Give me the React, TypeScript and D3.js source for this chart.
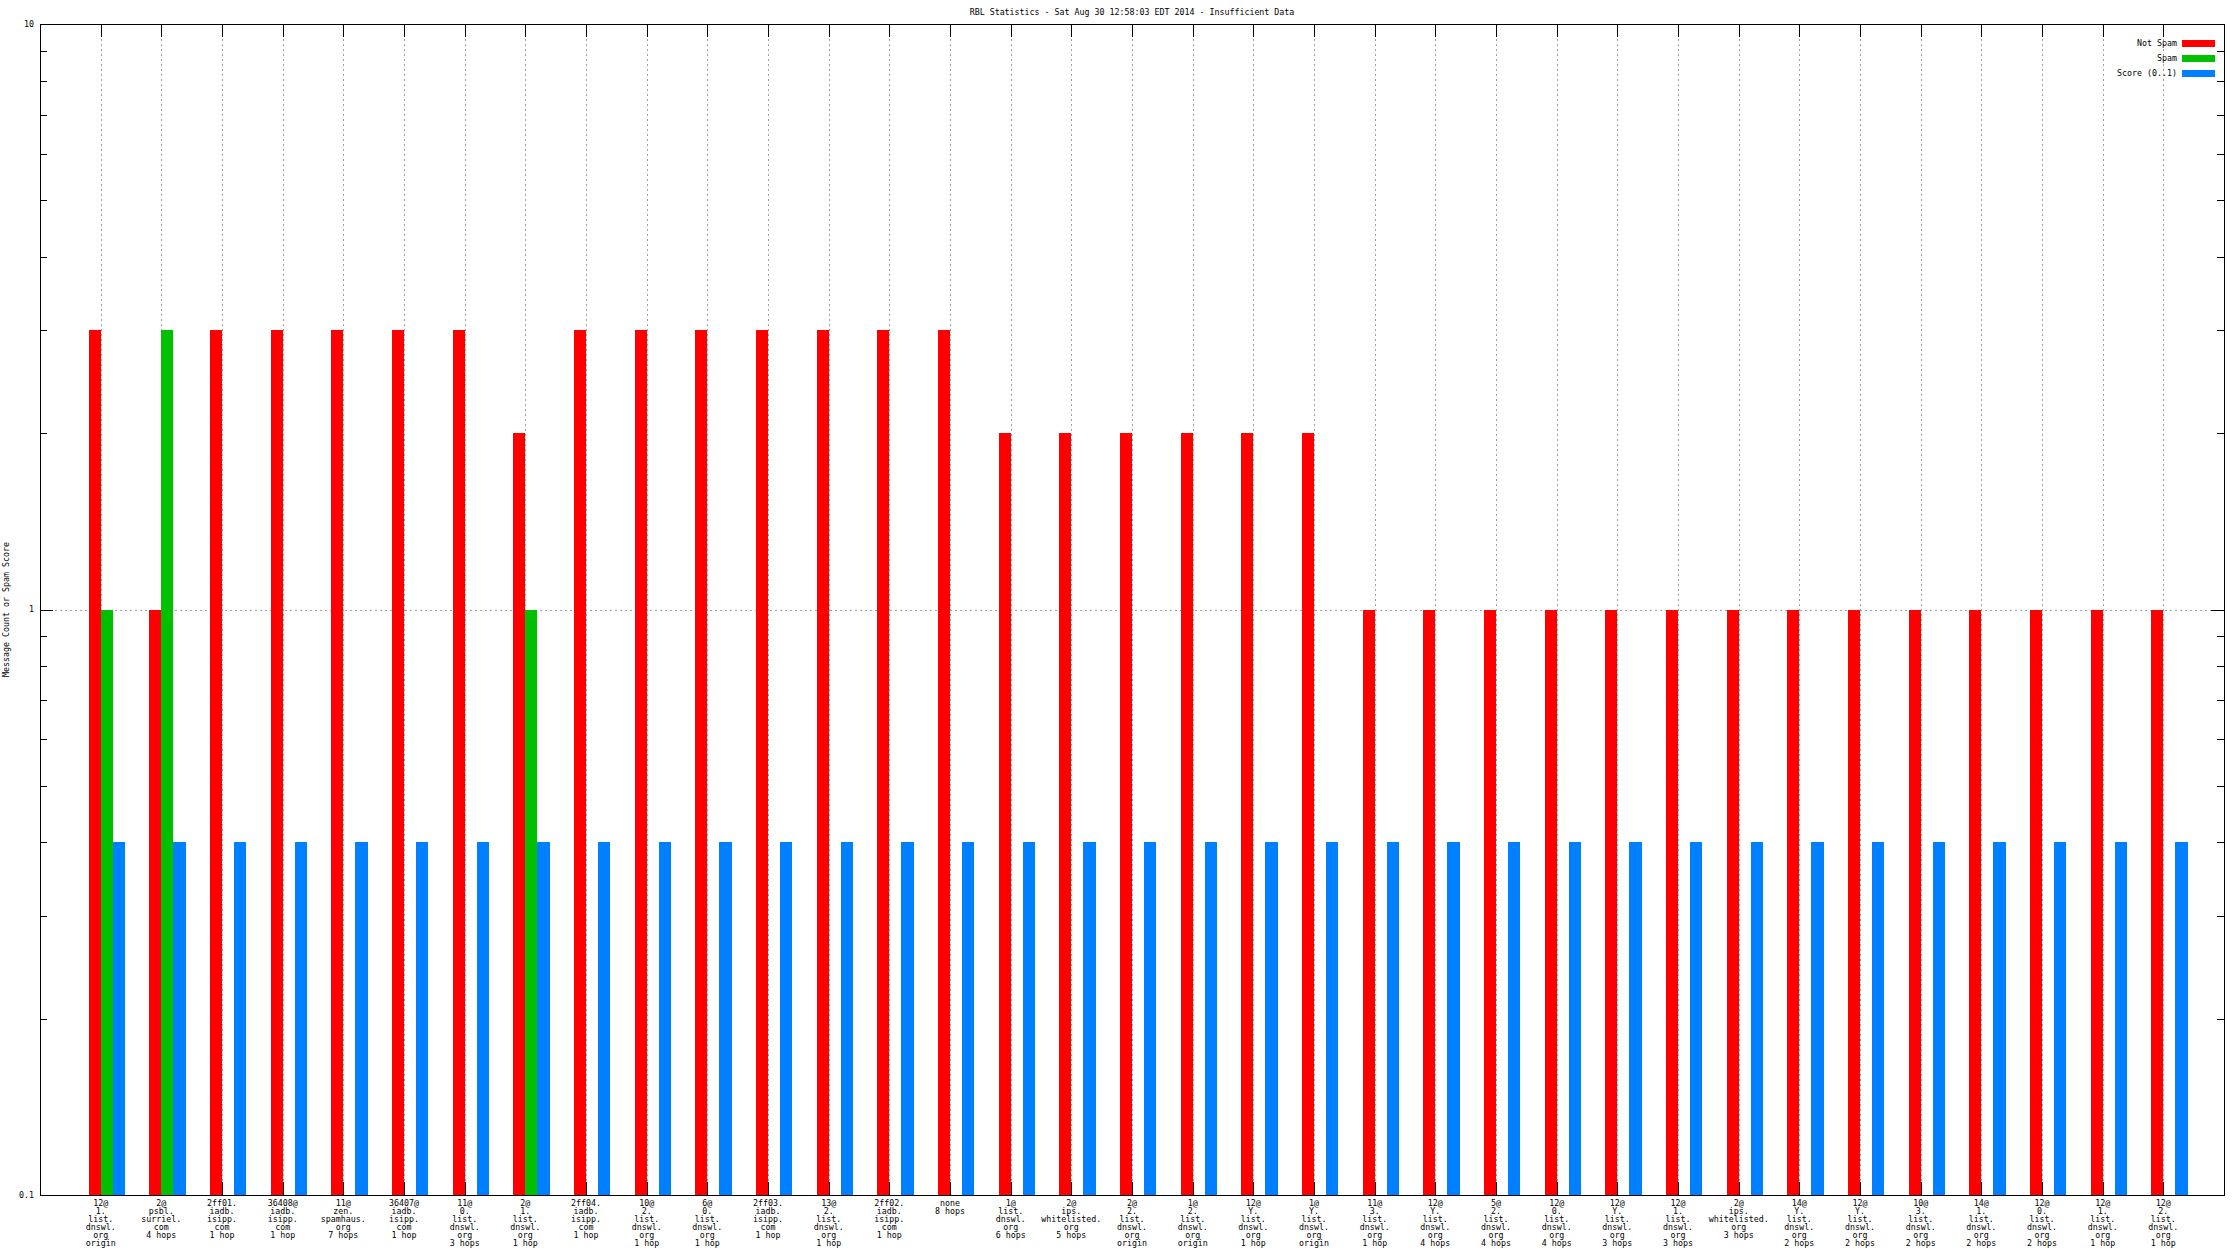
import React from "react";
import * as d3 from "d3";

const title = "RBL Statistics - Sat Aug 30 12:58:03 EDT 2014 - Insufficient Data";
const yLabel = "Message Count or Spam Score";

const categories: string[] = [
  "12@\n1.\nlist.\ndnswl.\norg\norigin",
  "2@\npsbl.\nsurriel.\ncom\n4 hops",
  "2ff01.\niadb.\nisipp.\ncom\n1 hop",
  "36408@\niadb.\nisipp.\ncom\n1 hop",
  "11@\nzen.\nspamhaus.\norg\n7 hops",
  "36407@\niadb.\nisipp.\ncom\n1 hop",
  "11@\n0.\nlist.\ndnswl.\norg\n3 hops",
  "2@\n1.\nlist.\ndnswl.\norg\n1 hop",
  "2ff04.\niadb.\nisipp.\ncom\n1 hop",
  "10@\n2.\nlist.\ndnswl.\norg\n1 hop",
  "6@\n0.\nlist.\ndnswl.\norg\n1 hop",
  "2ff03.\niadb.\nisipp.\ncom\n1 hop",
  "13@\n2.\nlist.\ndnswl.\norg\n1 hop",
  "2ff02.\niadb.\nisipp.\ncom\n1 hop",
  "none\n8 hops",
  "1@\nlist.\ndnswl.\norg\n6 hops",
  "2@\nips.\nwhitelisted.\norg\n5 hops",
  "2@\n2.\nlist.\ndnswl.\norg\norigin",
  "1@\n2.\nlist.\ndnswl.\norg\norigin",
  "12@\nY.\nlist.\ndnswl.\norg\n1 hop",
  "1@\nY.\nlist.\ndnswl.\norg\norigin",
  "11@\n3.\nlist.\ndnswl.\norg\n1 hop",
  "12@\nY.\nlist.\ndnswl.\norg\n4 hops",
  "5@\n2.\nlist.\ndnswl.\norg\n4 hops",
  "12@\n0.\nlist.\ndnswl.\norg\n4 hops",
  "12@\nY.\nlist.\ndnswl.\norg\n3 hops",
  "12@\n1.\nlist.\ndnswl.\norg\n3 hops",
  "2@\nips.\nwhitelisted.\norg\n3 hops",
  "14@\nY.\nlist.\ndnswl.\norg\n2 hops",
  "12@\nY.\nlist.\ndnswl.\norg\n2 hops",
  "10@\n3.\nlist.\ndnswl.\norg\n2 hops",
  "14@\n1.\nlist.\ndnswl.\norg\n2 hops",
  "12@\n0.\nlist.\ndnswl.\norg\n2 hops",
  "12@\n1.\nlist.\ndnswl.\norg\n1 hop",
  "12@\n2.\nlist.\ndnswl.\norg\n1 hop",
];

const notSpam: number[] = [
  3, 1, 3, 3, 3, 3, 3, 2, 3, 3, 3, 3, 3, 3, 3,
  2, 2, 2, 2, 2, 2,
  1, 1, 1, 1, 1, 1, 1, 1, 1, 1, 1, 1, 1, 1,
];

const spam: (number | null)[] = [
  1, 3, null, null, null, null, null, 1, null, null, null, null, null, null, null,
  null, null, null, null, null, null,
  null, null, null, null, null, null, null, null, null, null, null, null, null, null,
];

const score: number[] = [
  0.4, 0.4, 0.4, 0.4, 0.4, 0.4, 0.4, 0.4, 0.4, 0.4, 0.4, 0.4, 0.4, 0.4, 0.4,
  0.4, 0.4, 0.4, 0.4, 0.4, 0.4,
  0.4, 0.4, 0.4, 0.4, 0.4, 0.4, 0.4, 0.4, 0.4, 0.4, 0.4, 0.4, 0.4, 0.4,
];

const yMajorTicks = [0.1, 1, 10];
const yMinorTicks = [0.2, 0.3, 0.4, 0.5, 0.6, 0.7, 0.8, 0.9, 2, 3, 4, 5, 6, 7, 8, 9];
const yTickLabels = ["0.1", "1", "10"];

const seriesNames = ["Not Spam", "Spam", "Score (0..1)"];
const seriesColors = ["#ff0000", "#00c000", "#0080ff"];

const W = 2240;
const H = 1260;
const L = 40, R = 2224, T = 24, B = 1195;
const FONT = "'DejaVu Sans Mono', 'Liberation Mono', monospace";
const FS = 8.3;

export default function App() {
  const x = d3.scaleLinear().domain([-1, categories.length]).range([L, R]);
  const y = d3.scaleLog().domain([0.1, 10]).range([B, T]);
  const bw = 0.2;
  const series: (number | null)[][] = [notSpam, spam, score];
  const offsets = [-0.2, 0, 0.2];

  return (
    <div style={{ position: "fixed", left: 0, top: 0, width: W, height: H, background: "#fff" }}>
      <svg width={W} height={H} style={{ display: "block" }} fontFamily={FONT} fontSize={FS}>
        <rect x={0} y={0} width={W} height={H} fill="#fff" />
        {/* grid */}
        <g stroke="#a0a0a0" strokeWidth={1} strokeDasharray="2,3" shapeRendering="crispEdges">
          {categories.map((_, i) => (
            <line key={"gx" + i} x1={Math.round(x(i)) + 0.5} x2={Math.round(x(i)) + 0.5} y1={T} y2={B} />
          ))}
          {yMajorTicks.map((v) => (
            <line key={"gy" + v} x1={L} x2={R} y1={Math.round(y(v)) + 0.5} y2={Math.round(y(v)) + 0.5} />
          ))}
        </g>
        {/* ticks */}
        <g stroke="#000" strokeWidth={1} shapeRendering="crispEdges">
          {categories.map((_, i) => {
            const xx = Math.round(x(i)) + 0.5;
            return (
              <g key={"xt" + i}>
                <line x1={xx} x2={xx} y1={B} y2={B - 13} />
                <line x1={xx} x2={xx} y1={T} y2={T + 13} />
              </g>
            );
          })}
          {yMajorTicks.map((v) => {
            const yy = Math.round(y(v)) + 0.5;
            return (
              <g key={"ym" + v}>
                <line x1={L} x2={L + 13} y1={yy} y2={yy} />
                <line x1={R} x2={R - 13} y1={yy} y2={yy} />
              </g>
            );
          })}
          {yMinorTicks.map((v) => {
            const yy = Math.round(y(v)) + 0.5;
            return (
              <g key={"yn" + v}>
                <line x1={L} x2={L + 7} y1={yy} y2={yy} />
                <line x1={R} x2={R - 7} y1={yy} y2={yy} />
              </g>
            );
          })}
        </g>
        {/* bars */}
        <g shapeRendering="crispEdges">
          {series.map((s, si) =>
            s.map((v, i) => {
              if (v == null || v <= 0) return null;
              const x0 = x(i + offsets[si]);
              const x1 = x(i + offsets[si] + bw);
              return (
                <rect
                  key={si + "-" + i}
                  x={x0}
                  width={x1 - x0}
                  y={y(v)}
                  height={y(0.1) - y(v)}
                  fill={seriesColors[si]}
                />
              );
            })
          )}
        </g>
        {/* border */}
        <rect x={L + 0.5} y={T + 0.5} width={R - L} height={B - T} fill="none" stroke="#000" strokeWidth={1} shapeRendering="crispEdges" />
        {/* y tick labels */}
        {yMajorTicks.map((v, k) => (
          <text key={"yl" + v} x={34} y={y(v)} textAnchor="end" dominantBaseline="middle" fill="#000">
            {yTickLabels[k]}
          </text>
        ))}
        {/* x labels */}
        {categories.map((c, i) => (
          <text key={"xl" + i} x={x(i)} textAnchor="middle" fill="#000">
            {c.split("\n").map((line, li) => (
              <tspan key={li} x={x(i)} y={1203.5 + li * 7.9} dominantBaseline="middle">
                {line}
              </tspan>
            ))}
          </text>
        ))}
        {/* title */}
        <text x={(L + R) / 2} y={12.5} textAnchor="middle" dominantBaseline="middle" fill="#000">
          {title}
        </text>
        {/* y label */}
        <text transform={`translate(6.5, ${(T + B) / 2}) rotate(-90)`} textAnchor="middle" dominantBaseline="middle" fill="#000">
          {yLabel}
        </text>
        {/* legend */}
        {seriesNames.map((n, k) => {
          const yy = 43.5 + k * 15;
          return (
            <g key={"lg" + k}>
              <text x={2177} y={yy} textAnchor="end" dominantBaseline="middle" fill="#000">{n}</text>
              <rect x={2182} y={yy - 3.5} width={33} height={7} fill={seriesColors[k]} shapeRendering="crispEdges" />
            </g>
          );
        })}
      </svg>
    </div>
  );
}
